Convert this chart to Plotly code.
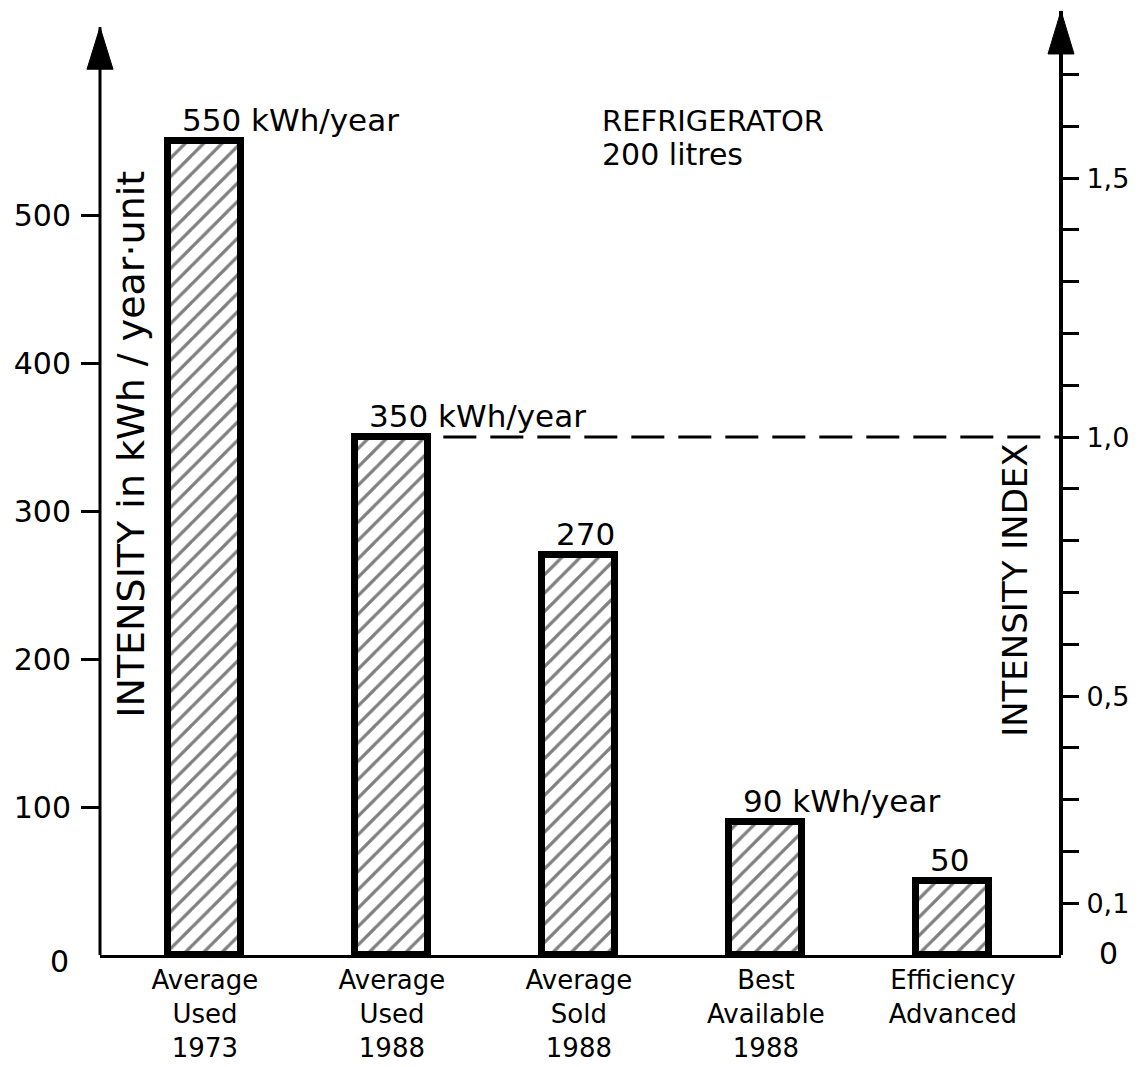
import plotly.graph_objects as go

# ---- data ----
categories = ["Average<br>Used<br>1973", "Average<br>Used<br>1988", "Average<br>Sold<br>1988",
              "Best<br>Available<br>1988", "Efficiency<br>Advanced"]
values_kwh = [550, 350, 270, 90, 50]
value_labels = ["550 kWh/year", "350 kWh/year", "270", "90 kWh/year", "50"]
left_tickvals = [100, 200, 300, 400, 500]
index_tickvals = [0.1, 0.2, 0.3, 0.4, 0.5, 0.6, 0.7, 0.8, 0.9, 1.0, 1.1, 1.2, 1.3, 1.4, 1.5, 1.6, 1.7]
index_ticktext = ["0,1", "", "", "", "0,5", "", "", "", "", "1,0", "", "", "", "", "1,5", "", ""]
reference_kwh = 350  # intensity index 1,0

FONT = "DejaVu Sans"
xs = list(range(len(categories)))
YMAX = 640
XR = [-0.561, 4.578]
BAR_W = 0.39

fig = go.Figure()
fig.add_trace(go.Bar(
    x=xs, y=values_kwh, width=BAR_W,
    marker=dict(color="white", line=dict(color="black", width=7),
                pattern=dict(shape="/", fgcolor="black", bgcolor="white", size=13, solidity=0.25)),
    hoverinfo="skip", showlegend=False))
fig.add_trace(go.Scatter(
    x=xs, y=[v / reference_kwh for v in values_kwh], yaxis="y2", mode="markers",
    marker=dict(opacity=0), hoverinfo="skip", showlegend=False))

annotations = []
for x, v, lab in zip(xs, values_kwh, value_labels):
    annotations.append(dict(x=x, y=v, xref="x", yref="y", text=lab, showarrow=False,
                            xanchor="left", yanchor="middle", xshift=-25, yshift=21,
                            font=dict(family=FONT, size=31, color="black")))
# zero labels
annotations.append(dict(x=-0.03, y=0, xref="paper", yref="y", text="0", showarrow=False,
                        xanchor="right", yanchor="middle", yshift=-6,
                        font=dict(family=FONT, size=30, color="black")))
annotations.append(dict(x=1.037, y=0, xref="paper", yref="y", text="0", showarrow=False,
                        xanchor="left", yanchor="middle", yshift=2,
                        font=dict(family=FONT, size=30, color="black")))
# titles
annotations.append(dict(x=0.032, y=(955 - 444) / 947, xref="paper", yref="paper", textangle=-90,
                        text="INTENSITY in kWh / year·unit", showarrow=False,
                        xanchor="center", yanchor="middle",
                        font=dict(family=FONT, size=38, color="black")))
annotations.append(dict(x=0.952, y=(955 - 590) / 947, xref="paper", yref="paper", textangle=-90,
                        text="INTENSITY INDEX", showarrow=False,
                        xanchor="center", yanchor="middle",
                        font=dict(family=FONT, size=34, color="black")))
annotations.append(dict(x=(600 - 100) / 961, y=(955 - 121) / 947, xref="paper", yref="paper",
                        text="REFRIGERATOR", showarrow=False, xanchor="left", yanchor="middle",
                        font=dict(family=FONT, size=29, color="black")))
annotations.append(dict(x=(600 - 100) / 961, y=(955 - 154) / 947, xref="paper", yref="paper",
                        text="200 litres", showarrow=False, xanchor="left", yanchor="middle",
                        font=dict(family=FONT, size=30, color="black")))

shapes = [
    # left axis line and arrow
    dict(type="line", xref="paper", yref="y", x0=0, x1=0, y0=0, y1=627,
         line=dict(color="black", width=3)),
    dict(type="path", xref="paper", yref="y", xsizemode="pixel", ysizemode="pixel",
         xanchor=0, yanchor=627, path="M0,0 L-13,-42 L13,-42 Z",
         fillcolor="black", line=dict(color="black", width=1)),
    # right axis line and arrow
    dict(type="line", xref="paper", yref="y", x0=1, x1=1, y0=0, y1=638,
         line=dict(color="black", width=4)),
    dict(type="path", xref="paper", yref="y", xsizemode="pixel", ysizemode="pixel",
         xanchor=1, yanchor=638, path="M0,0 L-13,-43 L13,-43 Z",
         fillcolor="black", line=dict(color="black", width=1)),
    # reference dashed line at index 1,0
    dict(type="line", xref="x", yref="y", x0=xs[1] + BAR_W / 2 + 0.08, x1=XR[1],
         y0=reference_kwh, y1=reference_kwh,
         line=dict(color="black", width=3, dash="33px,14px")),
]

# page body has an 8px margin, so the figure is sized/offset to compensate
fig.update_layout(
    width=1135, height=1059,
    margin=dict(l=92, r=82, t=0, b=112, pad=0, autoexpand=False),
    plot_bgcolor="white", paper_bgcolor="white",
    showlegend=False, bargap=0,
    font=dict(family=FONT, color="black"),
    xaxis=dict(range=XR, tickvals=xs, ticktext=categories, ticks="", automargin=False,
               showline=True, linewidth=3, linecolor="black", showgrid=False, zeroline=False,
               tickfont=dict(family=FONT, size=26, color="black"), ticklabelstandoff=0),
    yaxis=dict(range=[0, YMAX], tickvals=left_tickvals, ticks="outside", ticklen=18,
               tickwidth=3, tickcolor="black", showline=False, showgrid=False, zeroline=False,
               automargin=False,
               tickfont=dict(family=FONT, size=30, color="black"), ticklabelstandoff=4),
    yaxis2=dict(range=[0, YMAX / reference_kwh], overlaying="y", side="right",
                tickvals=index_tickvals, ticktext=index_ticktext, ticks="outside", ticklen=17,
                tickwidth=3, tickcolor="black", showline=False, showgrid=False, zeroline=False,
                automargin=False,
                tickfont=dict(family=FONT, size=27, color="black"), ticklabelstandoff=2),
    annotations=annotations, shapes=shapes,
)

fig.write_html("out.html")
